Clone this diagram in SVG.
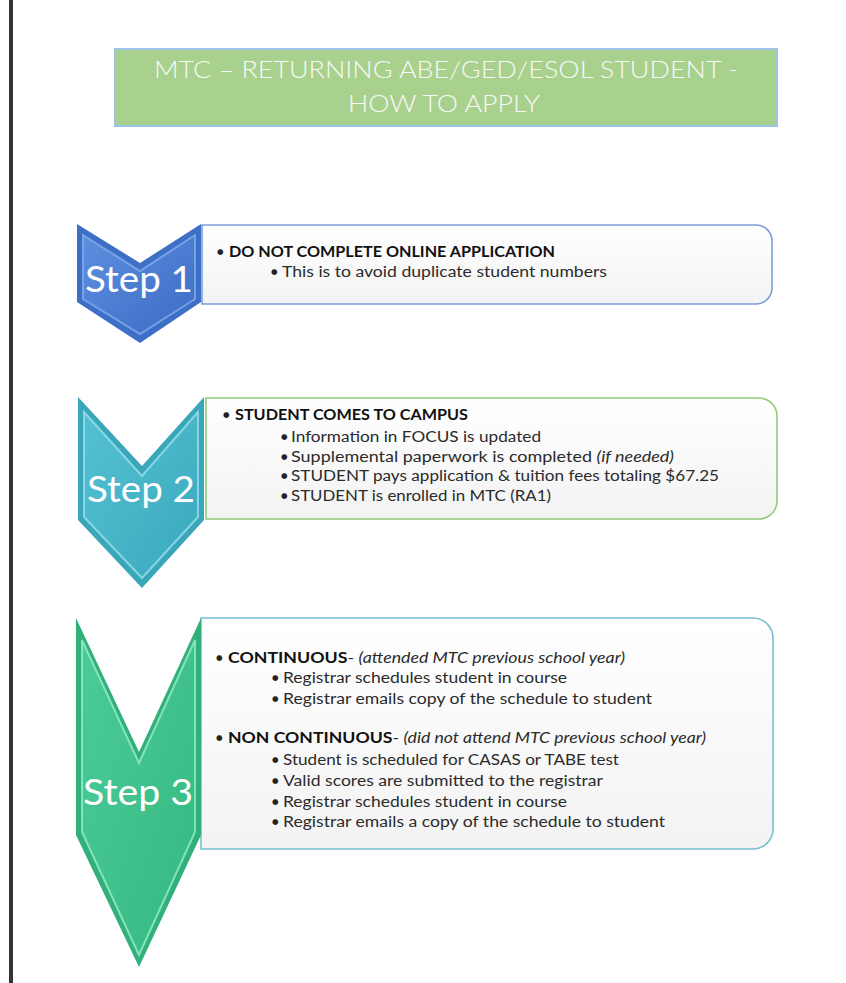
<svg xmlns="http://www.w3.org/2000/svg" width="846" height="983" viewBox="0 0 846 983">
<defs>
<style>
.body{font-family:Lato,"Open Sans","Liberation Sans",sans-serif;font-size:14.5px;fill:#2b2b2b}
.b{font-weight:bold;fill:#111}
.i{font-style:italic}
.bul{font-family:"DejaVu Sans",sans-serif;font-size:7.5px;fill:#222}
.step{font-family:Lato,"Open Sans","Liberation Sans",sans-serif;font-size:36px;fill:#ffffff}
.title{font-family:Lato,"Open Sans","Liberation Sans",sans-serif;font-weight:300;font-size:23px;fill:#f8f8f8}
.box{stroke-width:1.6}
</style>
<linearGradient id="boxfill" x1="0" y1="0" x2="0" y2="1">
<stop offset="0" stop-color="#ffffff"/>
<stop offset="1" stop-color="#f3f3f3"/>
</linearGradient>
<linearGradient id="g1" x1="0" y1="0" x2="1" y2="1">
<stop offset="0" stop-color="#5d8fe0"/>
<stop offset="1" stop-color="#3c6cc4"/>
</linearGradient>
<linearGradient id="g2" x1="0" y1="0" x2="1" y2="1">
<stop offset="0" stop-color="#55c0d3"/>
<stop offset="1" stop-color="#3aa9bd"/>
</linearGradient>
<linearGradient id="g3" x1="0" y1="0" x2="1" y2="1">
<stop offset="0" stop-color="#4ccb98"/>
<stop offset="1" stop-color="#35b882"/>
</linearGradient>
</defs>
<rect width="846" height="983" fill="#ffffff"/>
<rect x="9" y="0" width="4" height="983" fill="#333333"/>

<g id="title">
<rect x="115" y="49" width="662" height="77" fill="#a9d18e" stroke="#9dc3e6" stroke-width="2"/>
<text class="title" x="154" y="78" textLength="584" lengthAdjust="spacingAndGlyphs">MTC – RETURNING ABE/GED/ESOL STUDENT -</text>
<text class="title" x="348" y="112" textLength="192" lengthAdjust="spacingAndGlyphs">HOW TO APPLY</text>
</g>

<g id="step1">
<path class="box" d="M202,225 H756 A16,16 0 0 1 772,241 V288 A16,16 0 0 1 756,304 H202 Z" fill="url(#boxfill)" stroke="#7b9ed9"/>
<polygon points="77,224 140,263 201,224 201,302 140,343 77,302" fill="#3e6fc6"/>
<polygon points="83,235 140,271 195,235 195,299 140,334 83,299" fill="url(#g1)" stroke="#8cb3ee" stroke-width="2" stroke-opacity="0.7"/>
<text class="step" x="85" y="292" textLength="108" lengthAdjust="spacingAndGlyphs">Step 1</text>
<text class="bul" x="217" y="254">●</text>
<text class="body b" x="229" y="257" textLength="326" lengthAdjust="spacingAndGlyphs">DO NOT COMPLETE ONLINE APPLICATION</text>
<text class="bul" x="271" y="274">●</text>
<text class="body" x="282" y="277" textLength="325" lengthAdjust="spacingAndGlyphs">This is to avoid duplicate student numbers</text>
</g>

<g id="step2">
<path class="box" d="M206,398 H759 A18,18 0 0 1 777,416 V501 A18,18 0 0 1 759,519 H206 Z" fill="url(#boxfill)" stroke="#8fcc78"/>
<polygon points="78,397 142,466 204,397 204,520 142,588 78,520" fill="#3aa6ba"/>
<polygon points="84,412 142,476 198,412 198,517 142,578 84,517" fill="url(#g2)" stroke="#9fe4ee" stroke-width="2" stroke-opacity="0.75"/>
<text class="step" x="87" y="502" textLength="108" lengthAdjust="spacingAndGlyphs">Step 2</text>
<text class="bul" x="223" y="417">●</text>
<text class="body b" x="235" y="420" textLength="233" lengthAdjust="spacingAndGlyphs">STUDENT COMES TO CAMPUS</text>
<text class="bul" x="281" y="439">●</text>
<text class="body" x="291" y="442" textLength="250" lengthAdjust="spacingAndGlyphs">Information in FOCUS is updated</text>
<text class="bul" x="281" y="459">●</text>
<text class="body" x="291" y="462" textLength="383" lengthAdjust="spacingAndGlyphs">Supplemental paperwork is completed <tspan class="i">(if needed)</tspan></text>
<text class="bul" x="281" y="478">●</text>
<text class="body" x="291" y="481" textLength="428" lengthAdjust="spacingAndGlyphs">STUDENT pays application &amp; tuition fees totaling $67.25</text>
<text class="bul" x="281" y="498">●</text>
<text class="body" x="291" y="501" textLength="260" lengthAdjust="spacingAndGlyphs">STUDENT is enrolled in MTC (RA1)</text>
</g>

<g id="step3">
<path class="box" d="M201,618 H753 A20,20 0 0 1 773,638 V829 A20,20 0 0 1 753,849 H201 Z" fill="url(#boxfill)" stroke="#78bfcf"/>
<polygon points="76,618 139,752 201,618 201,835 139,967 76,835" fill="#32b07c"/>
<polygon points="82,640 139,763 195,640 195,832 139,955 82,832" fill="url(#g3)" stroke="#9ff0cc" stroke-width="2" stroke-opacity="0.75"/>
<text class="step" x="83" y="805" textLength="110" lengthAdjust="spacingAndGlyphs">Step 3</text>
<text class="bul" x="216" y="660">●</text>
<text class="body" x="228" y="663" textLength="397" lengthAdjust="spacingAndGlyphs"><tspan class="b">CONTINUOUS</tspan>- <tspan class="i">(attended MTC previous school year)</tspan></text>
<text class="bul" x="272" y="680">●</text>
<text class="body" x="283" y="683" textLength="284" lengthAdjust="spacingAndGlyphs">Registrar schedules student in course</text>
<text class="bul" x="272" y="701">●</text>
<text class="body" x="283" y="704" textLength="369" lengthAdjust="spacingAndGlyphs">Registrar emails copy of the schedule to student</text>
<text class="bul" x="216" y="740">●</text>
<text class="body" x="228" y="743" textLength="478" lengthAdjust="spacingAndGlyphs"><tspan class="b">NON CONTINUOUS</tspan>- <tspan class="i">(did not attend MTC previous school year)</tspan></text>
<text class="bul" x="272" y="762">●</text>
<text class="body" x="283" y="765" textLength="336" lengthAdjust="spacingAndGlyphs">Student is scheduled for CASAS or TABE test</text>
<text class="bul" x="272" y="783">●</text>
<text class="body" x="283" y="786" textLength="320" lengthAdjust="spacingAndGlyphs">Valid scores are submitted to the registrar</text>
<text class="bul" x="272" y="804">●</text>
<text class="body" x="283" y="807" textLength="284" lengthAdjust="spacingAndGlyphs">Registrar schedules student in course</text>
<text class="bul" x="272" y="824">●</text>
<text class="body" x="283" y="827" textLength="382" lengthAdjust="spacingAndGlyphs">Registrar emails a copy of the schedule to student</text>
</g>
</svg>
